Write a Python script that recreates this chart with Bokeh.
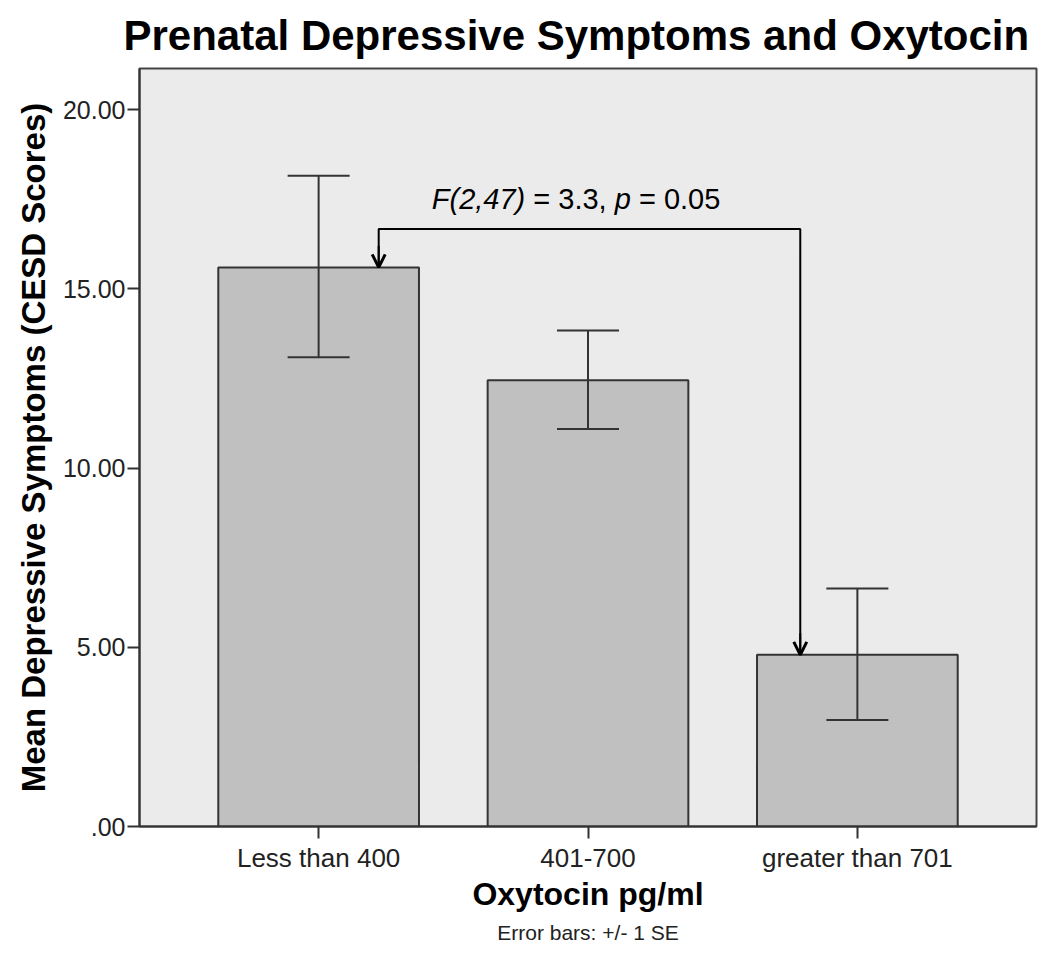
from bokeh.plotting import figure
from bokeh.models import (Range1d, FixedTicker, Whisker, ColumnDataSource, TeeHead,
                          Arrow, OpenHead, Label, Title)
from bokeh.embed import file_html
from bokeh.resources import INLINE

# ---- data ----
categories = ["Less than 400", "401-700", "greater than 701"]
means = [15.60, 12.45, 4.79]
se_upper = [18.16, 13.84, 6.64]
se_lower = [13.09, 11.09, 2.97]
y_ticks = [0, 5, 10, 15, 20]
y_tick_labels = [".00", "5.00", "10.00", "15.00", "20.00"]
bracket_level = 16.67
stat_parts = ["F(2,47)", "= 3.3,", "p", "= 0.05"]
stat_italic = [True, False, True, False]
title_text = "Prenatal Depressive Symptoms and Oxytocin"

FONT = "Liberation Sans"
x = list(range(len(categories)))
src = ColumnDataSource(dict(x=x, mean=means, upper=se_upper, lower=se_lower))

p = figure(width=1042, height=955, output_backend="svg", toolbar_location=None,
           x_range=Range1d(-0.665, 2.665), y_range=Range1d(0, 21.15),
           min_border_left=139, min_border_right=6, min_border_top=0,
           min_border_bottom=129, background_fill_color="#ebebeb",
           border_fill_color="white")
p.grid.visible = False
p.outline_line_color = "#444444"
p.outline_line_width = 2

# title
p.title = Title(text=title_text, align="left", offset=-16,
                text_font=FONT, text_font_size="42px", text_font_style="bold",
                text_color="black", standoff=19)

# bars
p.vbar(x="x", top="mean", width=0.745, source=src, fill_color="#c0c0c0",
       line_color="#333333", line_width=2)

# error bars
p.add_layout(Whisker(base="x", upper="upper", lower="lower", source=src,
                     line_color="#333333", line_width=2, level="annotation",
                     upper_head=TeeHead(size=62, line_color="#333333", line_width=2),
                     lower_head=TeeHead(size=62, line_color="#333333", line_width=2)))

# significance bracket
bx1, bx2 = 0.223, 1.788
p.line(x=[bx1, bx1, bx2, bx2], y=[means[0], bracket_level, bracket_level, means[2]],
       line_color="black", line_width=2)
for bx, top in [(bx1, means[0]), (bx2, means[2])]:
    p.add_layout(Arrow(end=OpenHead(size=13, line_width=3, line_color="black"),
                       x_start=bx, y_start=top + 0.6, x_end=bx, y_end=top,
                       line_color="black", line_width=2))

# statistic text (mixed italic)
fs = 29
offsets_em = [0.0, 3.501, 6.309, 7.143]
for part, ital, off in zip(stat_parts, stat_italic, offsets_em):
    p.add_layout(Label(x=0.42, y=17.52, text=part, x_offset=off * fs,
                       text_font=FONT, text_font_size=f"{fs}px",
                       text_font_style="italic" if ital else "normal",
                       text_color="black", text_baseline="alphabetic",
                       text_align="left"))

# axes
xa = p.xaxis[0]
xa.ticker = FixedTicker(ticks=x)
xa.major_label_overrides = {i: c for i, c in zip(x, categories)}
xa.axis_label = "Oxytocin pg/ml"
ya = p.yaxis[0]
ya.ticker = FixedTicker(ticks=y_ticks)
ya.major_label_overrides = {t: l for t, l in zip(y_ticks, y_tick_labels)}
ya.axis_label = "Mean Depressive Symptoms (CESD Scores)"
for ax in (xa, ya):
    ax.axis_line_color = "#333333"
    ax.axis_line_width = 2
    ax.major_tick_line_color = "#333333"
    ax.major_tick_line_width = 2
    ax.major_tick_in = 0
    ax.major_tick_out = 12
    ax.minor_tick_line_color = None
    ax.major_label_text_font = FONT
    ax.major_label_text_color = "#222222"
    ax.axis_label_text_font = FONT
    ax.axis_label_text_font_style = "bold"
    ax.axis_label_text_color = "black"
xa.major_label_text_font_size = "26px"
xa.major_label_standoff = 4
xa.axis_label_text_font_size = "32px"
xa.axis_label_standoff = 0
ya.major_label_text_font_size = "25px"
ya.major_label_standoff = 2
ya.axis_label_text_font_size = "33px"
ya.axis_label_standoff = 8

p.add_layout(Title(text="Error bars: +/- 1 SE", align="center", text_font=FONT,
                   text_font_size="21px", text_font_style="normal",
                   text_color="#222222", standoff=8), "below")

open("out.html", "w").write(file_html(p, INLINE))
